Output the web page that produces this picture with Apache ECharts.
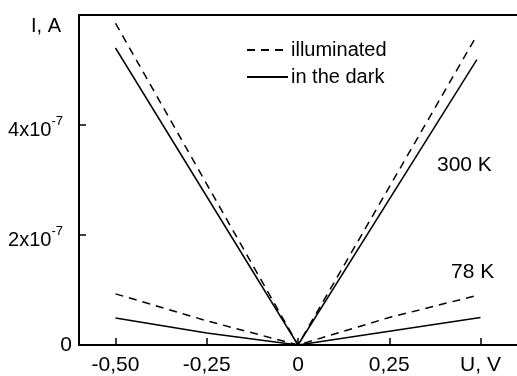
<!DOCTYPE html>
<html>
<head>
<meta charset="utf-8">
<script src="https://cdn.jsdelivr.net/npm/echarts@6/dist/echarts.min.js"></script>
<style>html,body{margin:0;padding:0;background:#fff}#c{width:517px;height:376px}</style>
</head>
<body>
<div id="c"></div>
<script>
// Data (U in V, I in A)
var illum300 = [[-0.50, 5.85e-7], [0, 0], [0.49, 5.63e-7]];
var dark300 = [[-0.50, 5.40e-7], [0, 0], [0.49, 5.19e-7]];
var illum78 = [[-0.50, 0.93e-7], [-0.25, 0.44e-7], [0, 0], [0.25, 0.50e-7], [0.49, 0.90e-7]];
var dark78 = [[-0.50, 0.49e-7], [-0.25, 0.22e-7], [0, 0], [0.25, 0.25e-7], [0.50, 0.50e-7]];
var xTickLabels = {'-0.5': '-0,50', '-0.25': '-0,25', '0': '0', '0.25': '0,25', '0.5': 'U, V'};
var yTickLabels = {'0': '{n|0}', '2e-7': '{b|2x10}{s|-7}', '4e-7': '{b|4x10}{s|-7}'};
var legendNames = ['illuminated', 'in the dark'];

var FONT = 'Liberation Sans, Arial, sans-serif';
var chart = echarts.init(document.getElementById('c'), null, {renderer: 'canvas'});
function lineSeries(name, data, dashed) {
  return {
    name: name, type: 'line', data: data, symbol: 'none', silent: true,
    lineStyle: {color: '#000', width: 1.5, type: dashed ? [8, 6] : 'solid'},
    itemStyle: {color: '#000'}
  };
}
chart.setOption({
  animation: false,
  backgroundColor: '#fff',
  grid: {left: 79, top: 15, right: -2, bottom: 29},
  legend: {
    data: legendNames, orient: 'vertical', left: 241, top: 35,
    itemWidth: 41, itemHeight: 20, itemGap: 7,
    itemStyle: {color: 'rgba(0,0,0,0)', borderWidth: 0, opacity: 0},
    textStyle: {fontFamily: FONT, fontSize: 20, color: '#000', padding: [0, 0, 0, -2]},
    selectedMode: false
  },
  xAxis: [{
    type: 'value', min: -0.6, max: 0.6, interval: 0.05,
    axisLine: {lineStyle: {color: '#000', width: 2}, onZero: false},
    axisTick: {inside: true, length: 7, lineStyle: {color: '#000', width: 1.5},
      customValues: [-0.5, -0.25, 0, 0.25, 0.5]},
    axisLabel: {customValues: [-0.5, -0.25, 0, 0.25, 0.5], margin: 10, color: '#000', fontFamily: FONT, fontSize: 21,
      formatter: function (v) { var k = String(Math.round(v * 100) / 100); return xTickLabels[k] !== undefined ? xTickLabels[k] : ''; }},
    splitLine: {show: false}
  }, {
    type: 'value', position: 'top', min: -0.6, max: 0.6,
    axisLine: {show: true, onZero: false, lineStyle: {color: '#000', width: 2}},
    axisTick: {show: false}, axisLabel: {show: false}, splitLine: {show: false}
  }],
  yAxis: {
    type: 'value', min: 0, max: 6e-7, interval: 2e-7,
    axisLine: {show: true, onZero: false, lineStyle: {color: '#000', width: 2}},
    axisTick: {inside: true, length: 7, lineStyle: {color: '#000', width: 1.5}},
    axisLabel: {margin: 7, color: '#000', fontFamily: FONT, fontSize: 21,
      formatter: function (v) {
        var k = v === 0 ? '0' : (Math.round(v * 1e7) + 'e-7');
        return yTickLabels[k] || '';
      },
      rich: {
        n: {fontFamily: FONT, fontSize: 21, color: '#000'},
        b: {fontFamily: FONT, fontSize: 20, color: '#000', verticalAlign: 'bottom', lineHeight: 30},
        s: {fontFamily: FONT, fontSize: 13, color: '#000', verticalAlign: 'top', lineHeight: 30, padding: [5, 9, 0, 0]}
      }
    },
    splitLine: {show: false}
  },
  graphic: [
    {type: 'text', left: 31, top: 16, style: {text: 'I, A', fontFamily: FONT, fontSize: 20, fill: '#000'}},
    {type: 'text', left: 437, top: 155, style: {text: '300 K', fontFamily: FONT, fontSize: 21, fill: '#000'}},
    {type: 'text', left: 451, top: 262, style: {text: '78 K', fontFamily: FONT, fontSize: 21, fill: '#000'}}
  ],
  series: [
    lineSeries('illuminated', illum300, true),
    lineSeries('in the dark', dark300, false),
    lineSeries('illuminated', illum78, true),
    lineSeries('in the dark', dark78, false)
  ]
});
</script>
</body>
</html>
